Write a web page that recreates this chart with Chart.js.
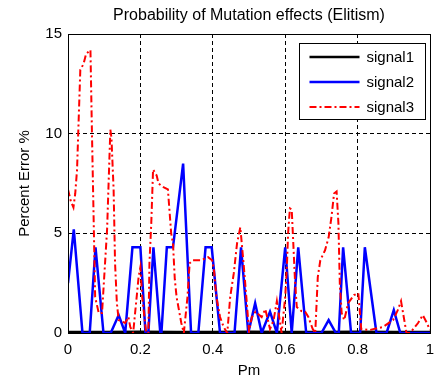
<!DOCTYPE html>
<html><head><meta charset="utf-8">
<script src="https://cdn.jsdelivr.net/npm/chart.js@4"></script>
<style>html,body{margin:0;padding:0;background:#fff}#w{width:435px;height:380px}</style>
</head><body><div id="w"><canvas id="c" width="435" height="380"></canvas></div>
<script>
const titleText = "Probability of Mutation effects (Elitism)";
const xTitle = "Pm";
const yTitle = "Percent Error %";
const seriesNames = ["signal1", "signal2", "signal3"];
const xTicks = [0, 0.2, 0.4, 0.6, 0.8, 1];
const yTicks = [0, 5, 10, 15];

const pm1 = [0, 0.1, 0.2, 0.3, 0.4, 0.5, 0.6, 0.7, 0.8, 0.9, 1.0];
const signal1 = [0.05, 0.05, 0.06, 0.05, 0.05, 0.06, 0.05, 0.05, 0.06, 0.05, 0.05];

const pm2 = [0, 0.016, 0.04, 0.06, 0.076, 0.098, 0.118, 0.14, 0.158, 0.178,
  0.2, 0.214, 0.222, 0.236, 0.255, 0.258, 0.273, 0.29, 0.318, 0.34,
  0.36, 0.38, 0.397, 0.42, 0.46, 0.478, 0.498, 0.517, 0.535, 0.558,
  0.577, 0.6, 0.618, 0.636, 0.658, 0.70, 0.72, 0.74, 0.748, 0.76,
  0.782, 0.807, 0.82, 0.852, 0.88, 0.9, 0.918, 1.0];
const signal2 = [2.5, 5.2, 0, 0, 4.3, 0, 0, 0.9, 0, 4.3,
  4.3, 0, 0, 4.3, 0, 0, 4.3, 4.3, 8.5, 0,
  0, 4.3, 4.3, 0, 0, 4.3, 0, 1.5, 0, 1.07,
  0, 4.3, 0, 4.3, 0, 0, 0.65, 0, 0, 4.3,
  0, 0, 4.3, 0, 0, 1.15, 0, 0];

const pm3 = [0, 0.008, 0.015, 0.02, 0.025, 0.03, 0.034, 0.043, 0.05, 0.062,
  0.066, 0.07, 0.075, 0.085, 0.094, 0.108, 0.117, 0.12, 0.126, 0.13,
  0.135, 0.14, 0.158, 0.167, 0.172, 0.18, 0.195, 0.2, 0.205, 0.216,
  0.222, 0.225, 0.23, 0.235, 0.245, 0.25, 0.265, 0.276, 0.285, 0.29,
  0.295, 0.3, 0.313, 0.32, 0.33, 0.336, 0.345, 0.368, 0.387, 0.398,
  0.403, 0.41, 0.42, 0.43, 0.44, 0.448, 0.458, 0.467, 0.476, 0.485,
  0.494, 0.5, 0.508, 0.518, 0.535, 0.545, 0.558, 0.568, 0.577, 0.59,
  0.6, 0.605, 0.608, 0.613, 0.618, 0.622, 0.627, 0.632, 0.645, 0.655,
  0.664, 0.676, 0.683, 0.69, 0.697, 0.71, 0.72, 0.728, 0.735, 0.742,
  0.747, 0.751, 0.756, 0.763, 0.774, 0.79, 0.802, 0.81, 0.833, 0.87,
  0.898, 0.911, 0.92, 0.935, 0.945, 0.967, 0.98, 0.99, 1.0];
const signal3 = [7.2, 6.6, 6.3, 7.0, 8.2, 11.0, 13.2, 13.5, 14.0, 14.2,
  10.2, 6.5, 1.8, 1.0, 1.0, 5.2, 10.2, 9.8, 7.2, 3.5,
  1.5, 0.65, 0.5, 0.8, 0.3, 0, 2.8, 3.3, 1.8, 0,
  0, 3.5, 5.5, 8.2, 7.9, 7.5, 7.3, 7.2, 5.0, 4.5,
  2.7, 1.8, 0.5, 0, 1.8, 3.5, 3.65, 3.65, 3.8, 3.65,
  3.2, 1.8, 0.8, 0.3, 0, 1.8, 3.0, 4.5, 5.3, 3.5,
  1.5, 0.1, 0.8, 1.07, 0.8, 1.2, 0.2, 0.65, 1.6, 0,
  1.8, 3.5, 5.0, 6.25, 6.2, 4.65, 2.65, 1.3, 1.1, 1.07,
  0.8, 0.2, 0, 2.8, 3.65, 4.15, 4.8, 5.85, 7.0, 7.1,
  5.5, 2.4, 1.0, 0.65, 1.5, 1.9, 2.0, 0.2, 0.15, 0.3,
  0.65, 1.15, 1.6, 0, 0, 0.5, 0.9, 0.55, 0.15];

const FONT = "'Liberation Sans', Arial, sans-serif";
const pts = (xs, ys) => xs.map((x, i) => ({x: x, y: ys[i]}));

const boxLegend = {
  id: 'boxLegend',
  afterDraw(chart) {
    const ctx = chart.ctx, a = chart.chartArea;
    ctx.save();
    ctx.strokeStyle = '#000'; ctx.lineWidth = 1; ctx.setLineDash([]);
    ctx.strokeRect(Math.round(a.left) + 0.5, Math.round(a.top) + 0.5,
      Math.round(a.right - a.left), Math.round(a.bottom - a.top));
    const w = 126, h = 76;
    const x0 = Math.round(a.right - 5 - w) + 0.5, y0 = Math.round(a.top + 9) + 0.5;
    ctx.fillStyle = '#fff';
    ctx.fillRect(x0, y0, w, h);
    ctx.strokeRect(x0, y0, w, h);
    ctx.font = '15px ' + FONT;
    ctx.textBaseline = 'middle';
    ctx.textAlign = 'left';
    [0, 1, 2].forEach((k, i) => {
      const ds = chart.data.datasets[k];
      const yy = y0 + 13.5 + i * 25;
      ctx.strokeStyle = ds.borderColor;
      ctx.lineWidth = ds.borderWidth;
      ctx.setLineDash(ds.borderDash || []);
      ctx.beginPath();
      ctx.moveTo(x0 + 10, yy);
      ctx.lineTo(x0 + 60, yy);
      ctx.stroke();
      ctx.setLineDash([]);
      ctx.fillStyle = '#000';
      ctx.fillText(ds.label, x0 + 67, yy + 1);
    });
    ctx.restore();
  }
};

new Chart(document.getElementById('c'), {
  type: 'line',
  data: {
    datasets: [
      {label: seriesNames[0], data: pts(pm1, signal1), borderColor: '#000000', borderWidth: 2.5, order: 3},
      {label: seriesNames[1], data: pts(pm2, signal2), borderColor: '#0000ff', borderWidth: 2.5, order: 2},
      {label: seriesNames[2], data: pts(pm3, signal3), borderColor: '#ff0000', borderWidth: 2, borderDash: [7, 3, 2, 3], order: 1}
    ]
  },
  options: {
    responsive: false,
    animation: false,
    devicePixelRatio: 1,
    layout: {padding: {left: 16, right: 5, top: 0, bottom: 0}},
    elements: {point: {radius: 0}, line: {tension: 0, fill: false}},
    plugins: {
      legend: {display: false},
      tooltip: {enabled: false},
      title: {display: true, text: titleText, fullSize: false, color: '#000',
        font: {family: FONT, size: 16, weight: 'normal'}, padding: {top: 6, bottom: 8.8}}
    },
    scales: {
      x: {
        type: 'linear', min: 0, max: 1,
        afterBuildTicks: s => { s.ticks = xTicks.map(v => ({value: v})); },
        afterFit: s => { s.height = 47; s.paddingRight = 0; s.paddingLeft = 0; },
        ticks: {color: '#000', font: {family: FONT, size: 15}, padding: 8, maxRotation: 0,
          callback: v => String(v)},
        grid: {color: '#000', lineWidth: 1, drawTicks: false},
        border: {display: true, color: '#000', dash: [4, 3]},
        title: {display: true, text: xTitle, color: '#000', font: {family: FONT, size: 15}, padding: {top: 4, bottom: 0}}
      },
      y: {
        min: 0, max: 15,
        afterBuildTicks: s => { s.ticks = yTicks.map(v => ({value: v})); },
        afterFit: s => { s.width = 52; s.paddingTop = 0; s.paddingBottom = 0; },
        ticks: {color: '#000', font: {family: FONT, size: 15}, padding: 6},
        grid: {color: '#000', lineWidth: 1, drawTicks: false},
        border: {display: true, color: '#000', dash: [4, 3]},
        title: {display: true, text: yTitle, color: '#000', font: {family: FONT, size: 15}, padding: {top: 0, bottom: 0}}
      }
    }
  },
  plugins: [boxLegend]
});
</script>
</body></html>
